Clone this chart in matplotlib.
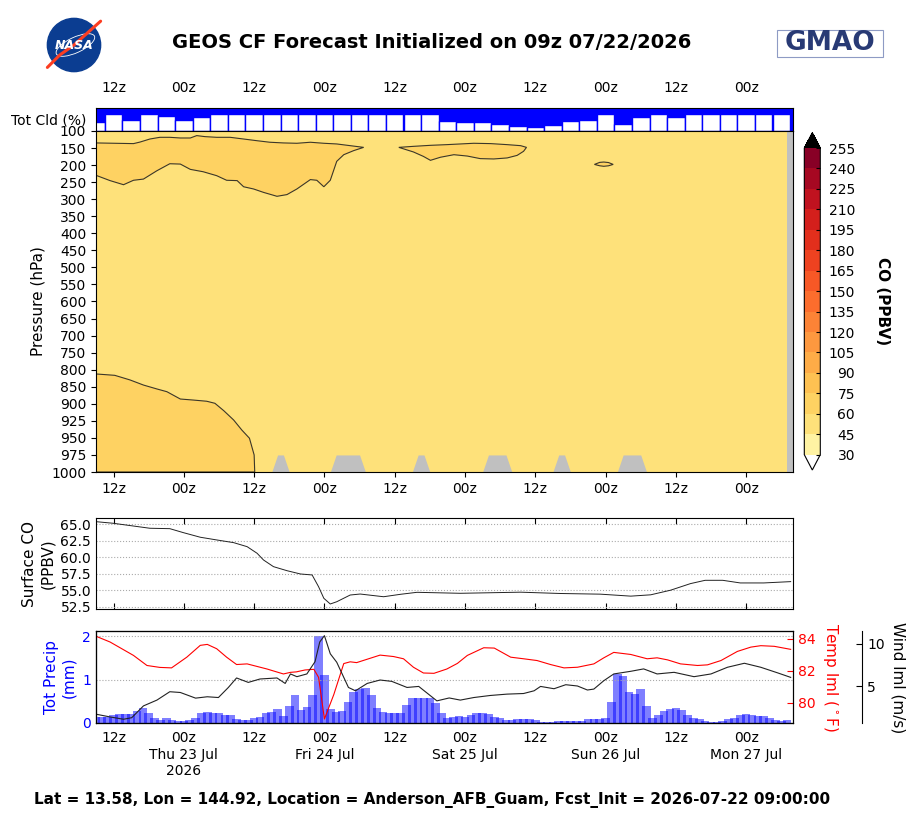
import numpy as np
import matplotlib
matplotlib.use('Agg')
import matplotlib.pyplot as plt
from matplotlib.colors import ListedColormap, BoundaryNorm
from matplotlib.cm import ScalarMappable
from matplotlib.patches import Circle, Ellipse, Rectangle

W, H = 918, 819

# ---- time axis (hours since 09z 22 Jul 2026) ----
tick_hours = [3, 15, 27, 39, 51, 63, 75, 87, 99, 111]
tick_short = ['12z', '00z', '12z', '00z', '12z', '00z', '12z', '00z', '12z', '00z']
tick_long = ['12z', '00z\nThu 23 Jul\n2026', '12z', '00z\nFri 24 Jul', '12z',
             '00z\nSat 25 Jul', '12z', '00z\nSun 26 Jul', '12z', '00z\nMon 27 Jul']

# ---- total cloud (%) every 3 h ----
cloud_hours = list(range(0, 118, 3))
cloud_pct = [63, 28, 52, 28, 33, 52, 37, 28, 28, 28, 28, 28, 28, 28, 28, 28, 28,
             28, 28, 28, 56, 60, 63, 68, 77, 81, 72, 56, 52, 28, 68, 37, 28, 37,
             28, 28, 28, 28, 28, 28]

# ---- CO curtain ----
p_levels = [100, 150, 200, 250, 300, 350, 400, 450, 500, 550, 600, 650, 700, 750,
            800, 850, 900, 925, 950, 975, 1000]
co_levels = [30, 45, 60, 75, 90, 105, 120, 135, 150, 165, 180, 195, 210, 225, 240, 255]
co_hours = list(range(0, 119))
# hours where the 1000 hPa level is below the surface
below_sfc_hours = [31, 32, 41, 42, 43, 44, 45, 55, 56, 67, 68, 69, 70, 79, 80,
                   90, 91, 92, 93]

# 60 ppbv contour outlines (hour, hPa)
upper1_top_h = [0, 6.4, 7.5, 9.2, 10.9, 12.6, 14.4, 16.1, 17.2, 18.6, 20.6, 22.9,
                25.2, 27.5, 29.7, 32.0, 34.3, 36.6, 38.9, 41.1, 43.4, 45.7]
upper1_top_p = [135, 137, 132.5, 123.5, 118.5, 118.5, 120.5, 120.5, 113.5, 116.5,
                118.5, 118.5, 123.5, 128.5, 133, 135, 136, 133, 136, 138, 143, 148]
upper1_bot_h = [0, 2.4, 4.7, 6.4, 8.1, 10.4, 12.6, 14.4, 16.1, 18.3, 20.6, 22.3,
                24.1, 25.2, 26.9, 28.6, 30.9, 32.6, 34.3, 36.6, 37.7, 38.9, 40.0,
                41.1, 42.3, 44.0]
upper1_bot_p = [230, 245.5, 257.5, 244.5, 241, 216.5, 196, 197, 212.5, 219.5, 231,
                244.5, 245.5, 263.5, 270, 280, 291.5, 286.5, 270, 242.5, 244.5,
                263.5, 244.5, 189, 169.5, 157.5]

upper2_top_h = [51.7, 54.2, 57.1, 59.9, 62.2, 64.5, 67.4, 70.2, 72.5, 73.5]
upper2_top_p = [148, 145, 142, 140, 138, 136, 137, 140, 143, 148]
upper2_bot_h = [54.2, 55.9, 57.1, 58.8, 61.1, 63.4, 65.6, 67.9, 70.2, 71.9, 73.0]
upper2_bot_p = [161.5, 174.5, 186, 177, 169.5, 173.5, 181, 182, 179, 171.5, 159.5]

upper3_top_h = [85.1, 86.0, 86.7, 87.5, 88.3]
upper3_top_p = [198, 192, 191, 192.5, 198]
upper3_bot_h = [86.0, 86.7, 87.5]
upper3_bot_p = [202, 203.5, 202]

lower_h = [0, 3.2, 5.8, 8.1, 10.4, 12.1, 14.4, 16.6, 18.9, 20.3, 21.8, 23.5, 24.9,
           26.2, 27.0, 27.1]
lower_p = [812.5, 816.5, 830, 845, 856.5, 864.5, 886, 889, 892.5, 898.5, 910,
           923.75, 938.5, 950.5, 975, 1000]

# ---- surface CO (ppbv) ----
sco_hours = [0, 2.9, 6.3, 9.2, 12.6, 14.9, 17.8, 20.6, 23.5, 25.8, 27.5, 28.6, 30.3,
             32.6, 34.9, 36.9, 38, 38.9, 40, 41.1, 43.4, 45.1, 49.1, 52, 54.8, 62.2,
             72.5, 79.3, 86.1, 91.3, 94.7, 98.1, 101.5, 104, 107, 110, 114, 118.6]
sco_vals = [65.39, 65.15, 64.74, 64.39, 64.33, 63.73, 63.03, 62.62, 62.21, 61.6, 60.6,
            59.58, 58.57, 57.96, 57.46, 57.31, 55.53, 53.77, 52.91, 53.25, 54.27,
            54.42, 54.01, 54.38, 54.68, 54.53, 54.7, 54.5, 54.4, 54.1, 54.3, 55.0,
            56.0, 56.5, 56.5, 56.1, 56.1, 56.3]

# ---- precip (mm), hourly ----
precip_hours = list(range(0, 119))
precip = [0.15, 0.14, 0.15, 0.18, 0.21, 0.21, 0.21, 0.28, 0.34, 0.23, 0.12, 0.08,
          0.11, 0.08, 0.05, 0.05, 0.08, 0.11, 0.23, 0.25, 0.22, 0.23, 0.19, 0.19,
          0.09, 0.08, 0.08, 0.11, 0.13, 0.23, 0.25, 0.32, 0.17, 0.40, 0.64, 0.31,
          0.37, 0.64, 2.00, 1.11, 0.32, 0.26, 0.28, 0.49, 0.72, 0.78, 0.80, 0.65,
          0.35, 0.26, 0.23, 0.23, 0.24, 0.42, 0.58, 0.58, 0.58, 0.58, 0.47, 0.23,
          0.12, 0.13, 0.17, 0.14, 0.18, 0.23, 0.23, 0.21, 0.15, 0.12, 0.08, 0.08,
          0.09, 0.09, 0.09, 0.08, 0.03, 0.03, 0.03, 0.05, 0.05, 0.05, 0.05, 0.05,
          0.09, 0.09, 0.09, 0.11, 0.49, 1.13, 1.08, 0.72, 0.67, 0.79, 0.40, 0.12,
          0.19, 0.28, 0.32, 0.35, 0.31, 0.18, 0.12, 0.09, 0.05, 0.03, 0.03, 0.05,
          0.09, 0.12, 0.18, 0.21, 0.18, 0.17, 0.17, 0.11, 0.06, 0.05, 0.08]

# ---- lowest model level temperature (F) ----
temp_hours = [0, 2.4, 6.4, 8.7, 10.9, 12.9, 15.5, 17.8, 19, 20.6, 22.3, 24, 25.8,
              29.2, 32, 33.2, 34.2, 35.7, 37.2, 38, 39.0, 40.6, 42.3, 43.4, 44.5,
              46.2, 48.5, 50.8, 52.5, 54.2, 55.9, 57.7, 59.9, 61.7, 63.4, 66.2, 68,
              70.8, 73, 75.3, 77.6, 79.9, 82.2, 85, 86.7, 88.4, 91.3, 94.1, 95.8,
              97.6, 99.8, 102.7, 104.4, 106.7, 109.5, 111.8, 113.5, 115.8, 118.6]
temp_vals = [84.15, 83.79, 82.95, 82.32, 82.2, 82.17, 82.84, 83.58, 83.64, 83.37,
             82.84, 82.38, 82.42, 82.1, 81.79, 81.89, 81.92, 82.04, 82.08, 81.58,
             78.97, 80.5, 82.44, 82.55, 82.5, 82.7, 82.97, 82.88, 82.74, 82.21,
             81.85, 81.83, 82.1, 82.45, 82.95, 83.43, 83.41, 82.84, 82.74, 82.63,
             82.38, 82.17, 82.21, 82.42, 82.8, 83.14, 83.01, 82.74, 82.8, 82.67,
             82.42, 82.32, 82.36, 82.63, 83.2, 83.47, 83.56, 83.52, 83.33]

# ---- lowest model level wind speed (m/s) ----
wind_hours = [0, 2.4, 4.7, 6.1, 8.1, 10.4, 12.6, 14.4, 17, 19, 20.9, 22.6, 24, 26,
              28, 30.9, 32.3, 33.2, 34.3, 36, 37.4, 38.2, 39.0, 40, 41.1, 43.1, 44.3,
              46.3, 48.5, 50.5, 53.1, 55.1, 58.2, 60.3, 62.2, 64.5, 67.3, 70.2, 73,
              74.8, 75.9, 78.2, 80.2, 82.2, 83.9, 85, 86.7, 88.4, 91.3, 93.5, 95.8,
              98.7, 102.1, 105, 107.8, 110.7, 113.5, 116.4, 118.6]
wind_vals = [1.75, 1.43, 1.16, 1.34, 2.72, 3.4, 4.38, 4.29, 3.63, 3.79, 3.7, 4.88,
             5.99, 5.47, 5.87, 5.99, 5.35, 6.46, 6.14, 6.46, 7.9, 10.2, 10.94, 8.82,
             7.83, 4.88, 4.49, 5.35, 5.75, 5.59, 4.88, 5.0, 3.31, 3.65, 3.4, 3.7,
             3.94, 4.1, 4.17, 4.49, 5.0, 4.73, 5.2, 5.05, 4.58, 4.69, 5.67, 6.46,
             6.77, 7.05, 6.46, 6.65, 6.14, 6.46, 7.24, 7.71, 7.24, 6.58, 6.06]

# colours for the CO bins (30-45 ... 240-255)
co_colors = ['#fff3a3', '#fee17a', '#fed262', '#fec152', '#feac47', '#fd983f',
             '#fc8336', '#fc6d2d', '#f75826', '#ee4220', '#e22f1c', '#d41f1c',
             '#c0121f', '#a60822', '#880026']
line_col = '#3b3628'
XMAX = 119


def rect(x0, y0, x1, y1):
    return [x0 / W, 1 - y1 / H, (x1 - x0) / W, (y1 - y0) / H]


lev_idx = np.arange(len(p_levels))


def p2i(p):
    return np.interp(p, p_levels, lev_idx)


plt.rcParams['font.size'] = 10
fig = plt.figure(figsize=(W / 100, H / 100), dpi=100)

# ---------------- cloud strip ----------------
ax_cld = fig.add_axes(rect(96, 108, 793, 131))
ax_cld.set_facecolor('blue')
ax_cld.bar(cloud_hours, [100 - c for c in cloud_pct], width=3, color='white',
           edgecolor='blue', linewidth=1)
ax_cld.set_xlim(0, XMAX)
ax_cld.set_ylim(0, 100)
ax_cld.set_yticks([])
ax_cld.xaxis.tick_top()
ax_cld.set_xticks(tick_hours, tick_short)
ax_cld.tick_params(axis='x', length=0, pad=9)
fig.text(86 / W, 1 - 120 / H, 'Tot Cld (%)', ha='right', va='center', fontsize=10)

# ---------------- CO curtain ----------------
ax = fig.add_axes(rect(96, 131, 793, 472))
ax.set_facecolor('#c0c0c0')
ax.fill_between(co_hours, 0, len(p_levels) - 1, color=co_colors[1], lw=0)
lowest = np.where(np.isin(co_hours, below_sfc_hours), 975, 1000)
ax.fill_between(co_hours, p2i(lowest), len(p_levels) - 1, color='#c0c0c0', lw=0)

for th, tp, bh, bp in [(upper1_top_h, upper1_top_p, upper1_bot_h, upper1_bot_p),
                       (upper2_top_h, upper2_top_p, upper2_bot_h, upper2_bot_p),
                       (upper3_top_h, upper3_top_p, upper3_bot_h, upper3_bot_p)]:
    xs = list(th) + list(bh[::-1])
    ys = p2i(list(tp) + list(bp[::-1]))
    ax.fill(xs, ys, facecolor=co_colors[2], edgecolor=line_col, lw=0.8)

xs = lower_h + [0]
ys = p2i(lower_p + [1000])
ax.fill(xs, ys, facecolor=co_colors[2], edgecolor=line_col, lw=0.8)

ax.set_xlim(0, XMAX)
ax.set_ylim(len(p_levels) - 1, 0)
ax.set_yticks(lev_idx, [str(p) for p in p_levels])
ax.set_xticks(tick_hours, tick_short)
ax.tick_params(labelsize=10)
ax.set_ylabel('Pressure (hPa)', fontsize=11)

cmap = ListedColormap(co_colors)
cmap.set_over('black')
cmap.set_under('white')
norm = BoundaryNorm(co_levels, cmap.N)
cax = fig.add_axes(rect(804.3, 132.7, 820.3, 470))
cb = fig.colorbar(ScalarMappable(norm=norm, cmap=cmap), cax=cax, extend='both',
                  ticks=co_levels)
cb.outline.set_linewidth(0.8)
cax.tick_params(direction='in', length=3, pad=25, labelsize=10)
for t in cax.get_yticklabels():
    t.set_horizontalalignment('right')
fig.text(883 / W, 1 - 301 / H, 'CO (PPBV)', rotation=270, ha='center', va='center',
         fontsize=11, fontweight='bold')

# ---------------- surface CO ----------------
ax_s = fig.add_axes(rect(96, 518.3, 793, 609))
ax_s.plot(sco_hours, sco_vals, color='#222222', lw=0.7)
ax_s.set_xlim(0, XMAX)
ax_s.set_ylim(52.15, 65.9)
ax_s.set_yticks([52.5, 55.0, 57.5, 60.0, 62.5, 65.0],
                ['52.5', '55.0', '57.5', '60.0', '62.5', '65.0'])
ax_s.grid(axis='y', ls=':', color='#aaaaaa', lw=0.8)
ax_s.set_xticks(tick_hours, [''] * len(tick_hours))
ax_s.tick_params(axis='x', direction='in', top=True, length=4)
ax_s.tick_params(axis='y', direction='in', length=0, labelsize=10)
ax_s.set_ylabel('Surface CO\n(PPBV)', fontsize=11)

# ---------------- precip / temp / wind ----------------
ax_p = fig.add_axes(rect(96, 631.3, 793, 723))
ax_p.bar(precip_hours, precip, width=1.44, color='blue', alpha=0.5, lw=0)
ax_p.set_xlim(0, XMAX)
ax_p.set_ylim(0, 2.12)
ax_p.set_yticks([0, 1, 2])
ax_p.grid(axis='y', ls=':', color='#aaaaaa', lw=0.8)
ax_p.tick_params(axis='y', colors='blue', length=0, labelsize=10)
ax_p.set_xticks(tick_hours, tick_long)
ax_p.tick_params(axis='x', direction='in', length=0, labelsize=10, pad=6)
ax_p.set_ylabel('Tot Precip\n(mm)', color='blue', fontsize=11)

ax_t = ax_p.twinx()
ax_t.plot(temp_hours, temp_vals, color='red', lw=0.8)
ax_t.set_ylim(78.72, 84.46)
ax_t.set_yticks([80, 82, 84])
ax_t.tick_params(axis='y', colors='red', direction='in', length=4, labelsize=10)
ax_t.spines['right'].set_color('black')
ax_t.set_ylabel(r'Temp lml ($^\circ$F)', color='red', fontsize=11, rotation=270,
                va='bottom')

ax_w = ax_p.twinx()
ax_w.spines['right'].set_position(('outward', 50))
ax_w.plot(wind_hours, wind_vals, color='#222222', lw=0.8)
ax_w.set_ylim(0.72, 11.45)
ax_w.set_yticks([5, 10])
ax_w.tick_params(axis='y', direction='in', length=4, labelsize=10)
ax_w.set_ylabel('Wind lml (m/s)', fontsize=11, rotation=270, va='bottom')
ax_w.set_xlim(0, XMAX)
ax_t.set_xlim(0, XMAX)

# ---------------- header / footer ----------------
fig.text(432 / W, 1 - 42 / H, 'GEOS CF Forecast Initialized on 09z 07/22/2026',
         ha='center', va='center', fontsize=14, fontweight='bold')
fig.text(432 / W, 1 - 800 / H,
         'Lat = 13.58, Lon = 144.92, Location = Anderson_AFB_Guam, '
         'Fcst_Init = 2026-07-22 09:00:00',
         ha='center', va='center', fontsize=11, fontweight='bold')

logo = fig.add_axes(rect(44, 15, 104, 75))
logo.set_xlim(-1.07, 1.07)
logo.set_ylim(-1.07, 1.07)
logo.axis('off')
logo.add_patch(Circle((0, 0), 0.95, color='#0b3d91'))
logo.add_patch(Ellipse((0.05, 0.0), 1.5, 0.55, angle=25, fill=False, ec='white', lw=0.6))
logo.plot([-0.95, -0.5, 0.0, 0.5, 0.95], [-0.8, -0.35, 0.0, 0.45, 0.85],
          color='#fc3d21', lw=2.2, solid_capstyle='round')
logo.text(0, -0.02, 'NASA', color='white', fontsize=9, fontweight='bold',
          style='italic', ha='center', va='center')

fig.add_artist(Rectangle((777 / W, 1 - 57 / H), 106 / W, 27 / H,
                         transform=fig.transFigure, fill=False, ec='#8e9bc4', lw=0.8))
fig.text(830 / W, 1 - 43.5 / H, 'GMAO', ha='center', va='center', fontsize=19,
         fontweight='bold', color='#283a75')

fig.savefig('out.png', dpi=100)
